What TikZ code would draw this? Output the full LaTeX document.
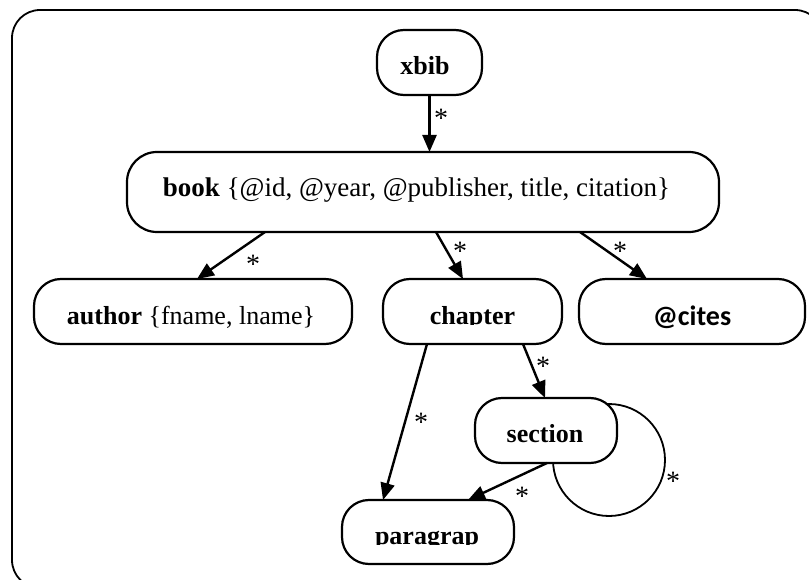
\documentclass[tikz,border=0pt]{standalone}
\usepackage{fontspec}
\setmainfont{Liberation Serif}
\newfontfamily\labelsans{Carlito}
\usetikzlibrary{arrows.meta,calc}

\begin{document}
\begin{tikzpicture}[x=1pt,y=-1pt,
  frame/.style={draw,line width=1.8pt,rounded corners=28pt},
  box/.style={draw,fill=white,line width=2.2pt,rounded corners=27pt,
              minimum height=65pt,inner sep=0pt,outer sep=0pt},
  link/.style={line width=2.4pt,-{Triangle[length=17pt,width=14pt]}},
  loopline/.style={line width=1.8pt},
  txt/.style={font=\fontsize{26}{30}\selectfont,anchor=base,inner sep=0pt},
  bigtxt/.style={font=\fontsize{27}{31}\selectfont,anchor=base,inner sep=0pt},
  sanstxt/.style={font=\fontsize{28}{32}\selectfont\labelsans\bfseries,anchor=base,inner sep=0pt},
  star/.style={font=\fontsize{28}{32}\selectfont,anchor=base,inner sep=0pt,yshift=-13pt}]

\useasboundingbox (0,0) rectangle (809,580);

% outer frame, running past the right and bottom edges
\begin{scope}
  \clip (0,0) rectangle (809,580);
  \draw[frame] (12,10) rectangle (823,588);
\end{scope}

% self loop of section (drawn first, the box covers its inner part)
\coordinate (loopc) at (609,460);
\draw[loopline] (loopc) circle[radius=56];

% boxes
\node[box,minimum width=105pt] (xbib) at (429.5,62.5) {};
\node[box,minimum width=592pt,minimum height=80pt,rounded corners=30pt] (book) at (423,192) {};
\node[box,minimum width=318pt] (author) at (193,311.5) {};
\node[box,minimum width=179pt] (chapter) at (472.5,311.5) {};
\node[box,minimum width=226pt] (cites) at (692,311.5) {};
\node[box,minimum width=142pt] (section) at (546,430.5) {};
\node[box,minimum width=172pt,minimum height=64pt] (para) at (428,532) {};

% box texts
\node[txt] (xbib-text) at (425,75) {\textbf{xbib}};
\node[bigtxt] (book-text) at (416.5,197) {\textbf{book} \{@id, @year, @publisher, title, citation\}};
\node[txt] (author-text) at (191,324) {\textbf{author} \{fname, lname\}};
\begin{scope}
  \clip (390,280) rectangle (555,324.5);
  \node[txt] (chapter-text) at (472.5,324) {\textbf{chapter}};
\end{scope}
\node[sanstxt] (cites-text) at (692,325) {@cites};
\node[txt] (section-text) at (545,442) {\textbf{section}};
\begin{scope}
  \clip (350,505) rectangle (505,544.5);
  \node[txt] (para-text) at (427,544) {\textbf{paragrap}};
\end{scope}

% connectors
\draw[link] (xbib.south) -- (xbib.south |- book.north);
\draw[link] ($(book.south)+(-158,0)$) -- ($(author.north)+(4,0)$);
\draw[link] ($(book.south)+(13,0)$) -- ($(chapter.north)+(-9.5,0)$);
\draw[link] ($(book.south)+(157,0)$) -- ($(cites.north)+(-45,0)$);
\draw[link] ($(chapter.south)+(-45.5,0)$) -- ($(para.north)+(-45,0)$);
\draw[link] ($(chapter.south)+(50.5,0)$) -- ($(section.north)+(-1,0)$);
\draw[link] ($(section.south)+(1,0)$) -- ($(para.north)+(40,0)$);

% multiplicity marks
\node[star] (m1) at (441,115) {*};
\node[star] (m2) at (253,260) {*};
\node[star] (m3) at (460,248) {*};
\node[star] (m4) at (620,248) {*};
\node[star] (m5) at (421,418) {*};
\node[star] (m6) at (543,362) {*};
\node[star] (m7) at (522,492) {*};
\node[star] (m8) at (673,477) {*};
\end{tikzpicture}
\end{document}
